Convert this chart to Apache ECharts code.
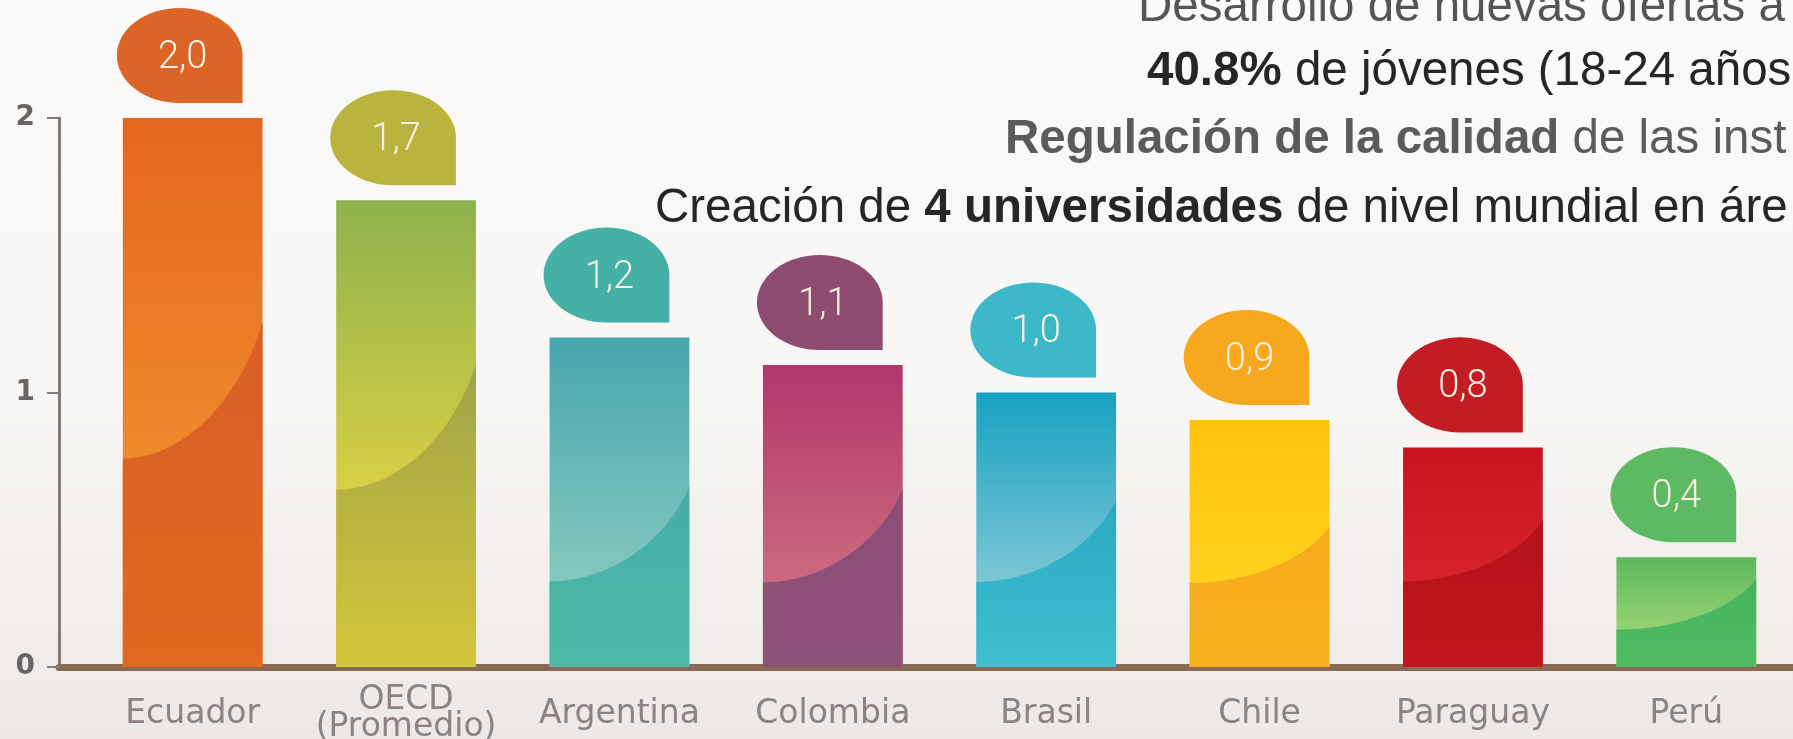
<!DOCTYPE html>
<html>
<head>
<meta charset="utf-8">
<script src="https://cdn.jsdelivr.net/npm/echarts@6/dist/echarts.min.js"></script>
<style>
  html, body { margin: 0; padding: 0; }
  #chart {
    width: 1793px;
    height: 739px;
    background: linear-gradient(180deg, #fbfaf9 0%, #f8f6f4 55%, #ece9e5 100%);
  }
</style>
</head>
<body>
<div id="chart"></div>
<script>
// data
const categories = ['Ecuador', 'OECD\n(Promedio)', 'Argentina', 'Colombia', 'Brasil', 'Chile', 'Paraguay', 'Perú']
const values = [2.0, 1.7, 1.2, 1.1, 1.0, 0.9, 0.8, 0.4]
const yTicks = [0, 1, 2]
const valueLabels = values.map(v => v.toFixed(1).replace('.', ','))

// colours per bar: top, light (near curve), lower part top, lower part bottom, bubble
const palette = [
  ['#e4661f', '#ef8a2c', '#d85f27', '#e0691f', '#dc6426'],
  ['#8db24c', '#d8cf45', '#9fa448', '#d4c63a', '#b9b43e'],
  ['#47a6ae', '#84c8bd', '#45ada5', '#4fbaa9', '#45b0a5'],
  ['#b0376a', '#cc6a80', '#8b4d75', '#8d5277', '#8e4d70'],
  ['#17a2c2', '#7cc6d4', '#2aa9c2', '#3fbfd0', '#3db8c8'],
  ['#fdc10f', '#ffd21c', '#f6aa1d', '#f8b01e', '#f7a81e'],
  ['#c8141d', '#d6222a', '#b3111a', '#c0161e', '#c21d24'],
  ['#5cb85e', '#96d272', '#43b45d', '#52bc62', '#5dba62']
]
// share of bar height where the darker lower part begins (left edge, right edge)
const curveAt = [
  [0.38, 0.63], [0.38, 0.65], [0.26, 0.55], [0.28, 0.59],
  [0.31, 0.61], [0.34, 0.57], [0.39, 0.67], [0.34, 0.80]
]

const chart = echarts.init(document.getElementById('chart'))

function grad (stops) {
  return new echarts.graphic.LinearGradient(0, 0, 0, 1, stops)
}

function renderBar (params, api) {
  const i = params.dataIndex
  const top = api.coord([i, api.value(1)])
  const base = api.coord([i, 0])
  const band = api.size([1, 0])[0]
  const w = band * 0.655
  const x0 = top[0] - w / 2
  const x1 = top[0] + w / 2
  const h = base[1] - top[1]
  const c = palette[i]
  const yL = base[1] - h * curveAt[i][0]
  const yR = base[1] - h * curveAt[i][1]
  const dy = yL - yR

  // lower darker part bounded by a curve
  const p = [[0, 0], [0.45 * w, 0], [0.85 * w, -0.45 * dy], [w, -dy]]
  const pts = []
  for (let k = 0; k <= 30; k++) {
    const t = k / 30
    const u = 1 - t
    const a = u * u * u, b = 3 * u * u * t, cc = 3 * u * t * t, d = t * t * t
    pts.push([
      x0 + a * p[0][0] + b * p[1][0] + cc * p[2][0] + d * p[3][0],
      yL + a * p[0][1] + b * p[1][1] + cc * p[2][1] + d * p[3][1]
    ])
  }
  pts.push([x1, base[1]], [x0, base[1]])

  // bubble: three quarters of an ellipse with a square bottom-right corner
  const bw = w * 0.9
  const bh = w * 0.68
  const bx = x0 - 6
  const bBottom = top[1] - 15
  const cx = bx + bw / 2
  const cy = bBottom - bh / 2
  const bub = []
  for (let k = 0; k <= 48; k++) {
    const t = -k / 48 * Math.PI * 1.5
    bub.push([cx + bw / 2 * Math.cos(t), cy + bh / 2 * Math.sin(t)])
  }
  bub.push([cx + bw / 2, cy + bh / 2])

  const fracL = Math.min(1, (yL - top[1]) / h)
  return {
    type: 'group',
    children: [
      {
        type: 'rect',
        shape: { x: x0, y: top[1], width: w, height: h },
        style: { fill: grad([{ offset: 0, color: c[0] }, { offset: fracL, color: c[1] }, { offset: 1, color: c[1] }]) }
      },
      {
        type: 'polygon',
        shape: { points: pts },
        style: { fill: grad([{ offset: 0, color: c[2] }, { offset: 1, color: c[3] }]) }
      },
      {
        type: 'polygon',
        shape: { points: bub },
        style: { fill: c[4] }
      },
      {
        type: 'text',
        style: {
          text: valueLabels[i],
          x: cx + 3,
          y: cy + 3,
          align: 'center',
          verticalAlign: 'middle',
          fontFamily: 'Roboto',
          fontWeight: 300,
          fontSize: 38,
          fill: '#f8f0e4'
        }
      }
    ]
  }
}

const titleFont = 'Liberation Sans'
const titleSize = 47.5
const option = {
  animation: false,
  backgroundColor: 'transparent',
  grid: [
    { left: 86, right: 0, top: 118, bottom: 72, outerBoundsMode: 'none' },
    { left: 59, right: 0, top: 118, bottom: 72, outerBoundsMode: 'none' }
  ],
  xAxis: [
    {
      type: 'category',
      gridIndex: 0,
      data: categories,
      axisLine: { show: false },
      axisTick: { show: false },
      axisLabel: {
        interval: 0,
        color: '#8d827d',
        fontFamily: 'DejaVu Sans',
        fontSize: 33,
        lineHeight: 27,
        verticalAlign: 'middle',
        margin: 47
      }
    },
    {
      type: 'value',
      gridIndex: 1,
      min: 0,
      max: 1,
      axisLine: { show: true, lineStyle: { color: '#8a6a54', width: 7 } },
      axisTick: { show: false },
      axisLabel: { show: false },
      splitLine: { show: false }
    }
  ],
  yAxis: [
    { type: 'value', gridIndex: 0, min: 0, max: 2, show: false },
    {
      type: 'value',
      gridIndex: 1,
      min: yTicks[0],
      max: yTicks[yTicks.length - 1],
      interval: 1,
      axisLine: { show: true, lineStyle: { color: '#847a76', width: 3 } },
      axisTick: { show: true, length: 12, lineStyle: { color: '#847a76', width: 2 } },
      axisLabel: {
        color: '#6b635f',
        fontFamily: 'DejaVu Sans',
        fontWeight: 'bold',
        fontSize: 28,
        margin: 24
      },
      splitLine: { show: false }
    }
  ],
  graphic: [
    {
      type: 'text', x: 1138, y: 8,
      style: {
        text: 'Desarrollo de nuevas ofertas a',
        verticalAlign: 'middle',
        fontFamily: titleFont, fontSize: titleSize, fill: '#555555'
      }
    },
    {
      type: 'text', x: 1147, y: 72,
      style: {
        text: '{b|40.8%}{n| de jóvenes (18-24 años}',
        verticalAlign: 'middle',
        rich: {
          b: { fontFamily: titleFont, fontSize: titleSize, fontWeight: 'bold', fill: '#262626' },
          n: { fontFamily: titleFont, fontSize: titleSize, fill: '#262626' }
        }
      }
    },
    {
      type: 'text', x: 1005, y: 140,
      style: {
        text: '{b|Regulación de la calidad}{n| de las inst}',
        verticalAlign: 'middle',
        rich: {
          b: { fontFamily: titleFont, fontSize: titleSize, fontWeight: 'bold', fill: '#5b5b5b' },
          n: { fontFamily: titleFont, fontSize: titleSize, fill: '#5b5b5b' }
        }
      }
    },
    {
      type: 'text', x: 655, y: 209,
      style: {
        text: '{n|Creación de }{b|4 universidades}{n| de nivel mundial en áre}',
        verticalAlign: 'middle',
        rich: {
          b: { fontFamily: titleFont, fontSize: titleSize, fontWeight: 'bold', fill: '#262626' },
          n: { fontFamily: titleFont, fontSize: titleSize, fill: '#262626' }
        }
      }
    }
  ],
  series: [
    {
      type: 'custom',
      xAxisIndex: 0,
      yAxisIndex: 0,
      clip: false,
      renderItem: renderBar,
      encode: { x: 0, y: 1 },
      data: values.map((v, i) => [i, v])
    }
  ]
}

chart.setOption(option)
</script>
</body>
</html>
